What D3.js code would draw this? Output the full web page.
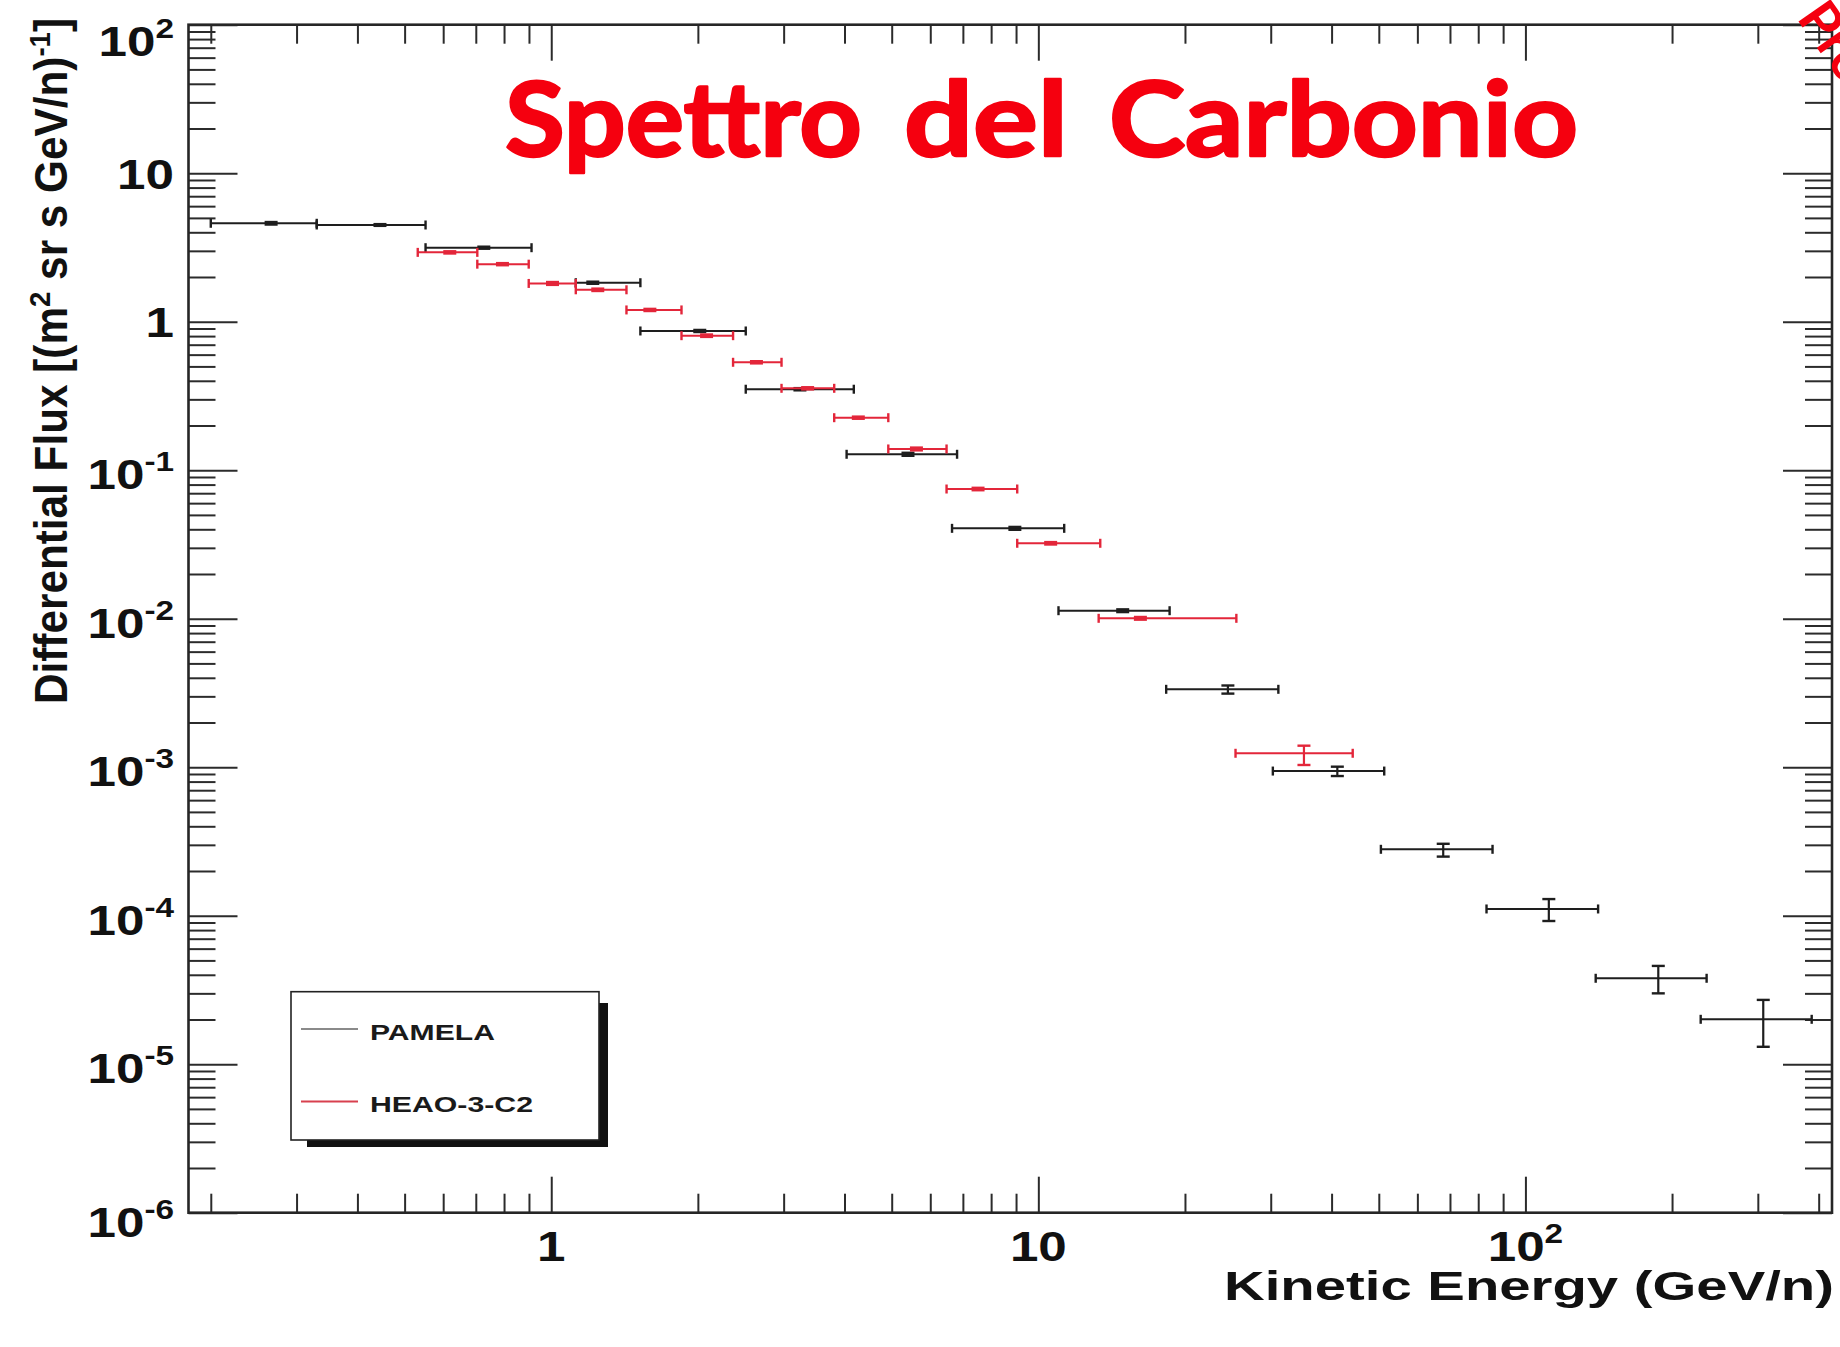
<!DOCTYPE html>
<html>
<head>
<meta charset="utf-8">
<script src="https://cdn.jsdelivr.net/npm/d3@7"></script>
<style>
  html, body { margin: 0; padding: 0; background: #ffffff; }
  svg { display: block; }
</style>
</head>
<body>
<svg id="chart" width="1840" height="1347"></svg>
<script>
// ---- PAMELA carbon flux (kinetic energy per nucleon, GeV/n) ----
const pamelaEnergy   = [0.266, 0.445, 0.727, 1.217, 2.018, 3.24, 5.40, 8.95, 14.9, 24.5, 41.1, 67.8, 111.7, 187.4, 307.8];
const pamelaEnergyLo = [0.20, 0.33, 0.552, 1.123, 1.524, 2.508, 4.04, 6.65, 11.0, 18.3, 30.3, 50.5, 83.2, 139.4, 229];
const pamelaEnergyHi = [0.33, 0.552, 0.911, 1.524, 2.508, 4.18, 6.81, 11.3, 18.6, 31.1, 51.3, 85.6, 141, 235.5, 387];
const pamelaFlux     = [4.60, 4.48, 3.15, 1.83, 0.866, 0.351, 0.128, 0.0406, 0.01132, 0.003346, 0.000942, 0.00028, 0.000111, 3.79e-5, 2.006e-5];
const pamelaFluxLo   = [4.51, 4.42, 3.10, 1.80, 0.852, 0.345, 0.125, 0.0397, 0.01108, 0.00313, 0.000872, 0.00025, 0.0000921, 3.0e-5, 1.31e-5];
const pamelaFluxHi   = [4.69, 4.54, 3.20, 1.86, 0.880, 0.357, 0.131, 0.0415, 0.01156, 0.00355, 0.001008, 0.000305, 0.0001294, 4.59e-5, 2.71e-5];

// ---- HEAO-3-C2 carbon flux ----
const heaoEnergy   = [0.619, 0.794, 1.006, 1.246, 1.594, 2.084, 2.638, 3.36, 4.27, 5.62, 7.52, 10.6, 16.2, 35.1];
const heaoEnergyLo = [0.532, 0.705, 0.899, 1.123, 1.427, 1.851, 2.362, 2.97, 3.81, 4.92, 6.48, 9.05, 13.3, 25.4];
const heaoEnergyHi = [0.705, 0.899, 1.123, 1.427, 1.851, 2.362, 2.97, 3.81, 4.92, 6.48, 9.05, 13.4, 25.5, 44.2];
const heaoFlux     = [2.93, 2.44, 1.81, 1.64, 1.20, 0.805, 0.533, 0.356, 0.2257, 0.139, 0.0747, 0.0322, 0.01006, 0.001241];
const heaoFluxLo   = [2.88, 2.40, 1.77, 1.61, 1.18, 0.790, 0.524, 0.350, 0.2220, 0.136, 0.0733, 0.0316, 0.00985, 0.001035];
const heaoFluxHi   = [2.98, 2.48, 1.85, 1.67, 1.22, 0.820, 0.542, 0.362, 0.2295, 0.142, 0.0761, 0.0328, 0.01027, 0.001396];

// ---- axes ----
const xDomain = [0.18, 426];
const yDomain = [1e-6, 100];
const xTickExponents = [0, 1, 2];
const yTickExponents = [-6, -5, -4, -3, -2, -1, 0, 1, 2];

const seriesNames = ["PAMELA", "HEAO-3-C2"];
const titleWords = ["Spettro", "del", "Carbonio"];
const xTitle = "Kinetic Energy (GeV/n)";
const stampText = "Preliminary";

// ------------------------------------------------------------------
const svg = d3.select("#chart");
const FONT = "'Liberation Sans', Arial, Helvetica, sans-serif";
const plot = { left: 188.5, right: 1832, top: 24.7, bottom: 1212.7 };

const x = d3.scaleLog().domain(xDomain).range([plot.left, plot.right]);
const y = d3.scaleLog().domain(yDomain).range([plot.bottom, plot.top]);

svg.append("rect").attr("width", 1840).attr("height", 1347).attr("fill", "#ffffff");

// log tick values m*10^k inside a domain
function logTicks(lo, hi, majorOnly) {
  const out = [];
  for (let k = Math.floor(Math.log10(lo)); k <= Math.ceil(Math.log10(hi)); k++) {
    for (let m = 1; m <= 9; m++) {
      if (majorOnly && m !== 1) continue;
      if (!majorOnly && m === 1) continue;
      const v = +(m * Math.pow(10, k)).toPrecision(6);
      if (v >= lo * 0.999 && v <= hi * 1.001) out.push(v);
    }
  }
  return out;
}
const xMinor = logTicks(xDomain[0], xDomain[1], false);
const xMajor = logTicks(xDomain[0], xDomain[1], true);
const yMinor = logTicks(yDomain[0], yDomain[1], false);
const yMajor = logTicks(yDomain[0], yDomain[1], true);

function styleAxis(g) {
  g.select(".domain").remove();
  g.selectAll(".tick line").attr("stroke", "#2b2b2b").attr("stroke-width", 2);
  g.selectAll(".tick text").remove();
}

const axes = svg.append("g");
// bottom & top axes (ticks point inward)
[[d3.axisBottom, plot.bottom], [d3.axisTop, plot.top]].forEach(([fn, pos]) => {
  axes.append("g").attr("transform", `translate(0,${pos})`)
    .call(fn(x).tickValues(xMinor).tickSize(-19).tickSizeOuter(0).tickFormat(""))
    .call(styleAxis);
  axes.append("g").attr("transform", `translate(0,${pos})`)
    .call(fn(x).tickValues(xMajor).tickSize(-36).tickSizeOuter(0).tickFormat(""))
    .call(styleAxis);
});
// left & right axes
[[d3.axisLeft, plot.left], [d3.axisRight, plot.right]].forEach(([fn, pos]) => {
  axes.append("g").attr("transform", `translate(${pos},0)`)
    .call(fn(y).tickValues(yMinor).tickSize(-27).tickSizeOuter(0).tickFormat(""))
    .call(styleAxis);
  axes.append("g").attr("transform", `translate(${pos},0)`)
    .call(fn(y).tickValues(yMajor).tickSize(-49).tickSizeOuter(0).tickFormat(""))
    .call(styleAxis);
});

// frame
svg.append("rect")
  .attr("x", plot.left).attr("y", plot.top)
  .attr("width", plot.right - plot.left).attr("height", plot.bottom - plot.top)
  .attr("fill", "none").attr("stroke", "#262626").attr("stroke-width", 2.6);

// power-of-ten label: "1", "10", or "10" with superscript exponent
function powerLabel(sel, e) {
  const t = sel.append("text")
    .attr("font-family", FONT).attr("font-weight", "bold")
    .attr("font-size", 43).attr("fill", "#111");
  if (e === 0) t.text("1");
  else if (e === 1) t.text("10");
  else {
    t.append("tspan").text("10");
    t.append("tspan").attr("dy", -18).attr("font-size", 28).text(String(e));
  }
  return t;
}

// y tick labels (the end labels sit slightly lower, as in the original layout)
yTickExponents.forEach(e => {
  const hasSup = e < 0 || e > 1;
  let dy = hasSup ? 19 : 15.5;
  if (e === 2) dy += 12;
  if (e === -6) dy += 5;
  const g = svg.append("g")
    .attr("transform", `translate(174,${y(Math.pow(10, e)) + dy}) scale(1.19,1)`);
  powerLabel(g, e).attr("text-anchor", "end");
});

// x tick labels
xTickExponents.forEach(e => {
  const g = svg.append("g")
    .attr("transform", `translate(${x(Math.pow(10, e))},1261) scale(1.19,1)`);
  powerLabel(g, e).attr("text-anchor", "middle");
});

// x axis title
svg.append("text")
  .attr("x", 1224).attr("y", 1300)
  .attr("font-family", FONT).attr("font-weight", "bold").attr("font-size", 41)
  .attr("fill", "#111")
  .attr("textLength", 610).attr("lengthAdjust", "spacingAndGlyphs")
  .text(xTitle);

// y axis title
const yt = svg.append("text")
  .attr("transform", "translate(67,704) rotate(-90)")
  .attr("font-family", FONT).attr("font-weight", "bold").attr("font-size", 46)
  .attr("fill", "#111")
  .attr("textLength", 686).attr("lengthAdjust", "spacingAndGlyphs");
yt.append("tspan").text("Differential Flux [(m");
yt.append("tspan").attr("dy", -17).attr("font-size", 30).text("2");
yt.append("tspan").attr("dy", 17).text(" sr s GeV/n)");
yt.append("tspan").attr("dy", -17).attr("font-size", 30).text("-1");
yt.append("tspan").attr("dy", 17).text("]");

// ---- data with error bars ----
function drawSeries(name, E, ELo, EHi, F, FLo, FHi, color) {
  const pts = E.map((e, i) => ({ e, lo: ELo[i], hi: EHi[i], f: F[i], flo: FLo[i], fhi: FHi[i] }));
  const g = svg.append("g").attr("class", name)
    .attr("stroke", color).attr("stroke-width", 2).attr("fill", "none");
  // horizontal bin width
  g.selectAll("line.h").data(pts).join("line").attr("class", "h")
    .attr("x1", d => x(d.lo)).attr("x2", d => x(d.hi))
    .attr("y1", d => y(d.f)).attr("y2", d => y(d.f));
  // end caps of the bin width
  ["lo", "hi"].forEach(k => {
    g.selectAll(`line.c${k}`).data(pts).join("line").attr("class", `c${k}`)
      .attr("stroke-width", 2.4)
      .attr("x1", d => x(d[k])).attr("x2", d => x(d[k]))
      .attr("y1", d => y(d.f) - 4.5).attr("y2", d => y(d.f) + 4.5);
  });
  // vertical flux error
  g.selectAll("line.v").data(pts).join("line").attr("class", "v")
    .attr("stroke-width", 2.2)
    .attr("x1", d => x(d.e)).attr("x2", d => x(d.e))
    .attr("y1", d => y(d.fhi)).attr("y2", d => y(d.flo));
  ["flo", "fhi"].forEach(k => {
    g.selectAll(`line.${k}`).data(pts).join("line").attr("class", k)
      .attr("stroke-width", 2.4)
      .attr("x1", d => x(d.e) - 6.5).attr("x2", d => x(d.e) + 6.5)
      .attr("y1", d => y(d[k])).attr("y2", d => y(d[k]));
  });
}

drawSeries("pamela", pamelaEnergy, pamelaEnergyLo, pamelaEnergyHi, pamelaFlux, pamelaFluxLo, pamelaFluxHi, "#1e1e1e");
drawSeries("heao", heaoEnergy, heaoEnergyLo, heaoEnergyHi, heaoFlux, heaoFluxLo, heaoFluxHi, "#e3263a");

// ---- legend ----
const leg = svg.append("g");
leg.append("rect").attr("x", 307).attr("y", 1003).attr("width", 301).attr("height", 144).attr("fill", "#111");
leg.append("rect").attr("x", 291).attr("y", 991.7).attr("width", 308).attr("height", 148.3)
  .attr("fill", "#ffffff").attr("stroke", "#222").attr("stroke-width", 1.6);
const legendRows = [
  { name: seriesNames[0], color: "#8a8a8a", y: 1029, len: 125 },
  { name: seriesNames[1], color: "#d8404e", y: 1101.5, len: 163 }
];
legendRows.forEach(r => {
  leg.append("line").attr("x1", 301).attr("x2", 358).attr("y1", r.y).attr("y2", r.y)
    .attr("stroke", r.color).attr("stroke-width", 2.2);
  leg.append("text").attr("x", 370).attr("y", r.y + 10.5)
    .attr("font-family", FONT).attr("font-weight", "bold").attr("font-size", 22)
    .attr("fill", "#1a1a1a")
    .attr("textLength", r.len).attr("lengthAdjust", "spacingAndGlyphs")
    .text(r.name);
});

// ---- title ----
const titleX = [505, 904, 1109];
const titleLen = [357, 164, 469];
titleWords.forEach((w, i) => {
  svg.append("text")
    .attr("x", titleX[i]).attr("y", 156)
    .attr("font-family", "Lato, 'Open Sans', sans-serif").attr("font-weight", 700)
    .attr("font-size", 104)
    .attr("fill", "#f5000f").attr("stroke", "#f5000f").attr("stroke-width", 2.5)
    .attr("stroke-linejoin", "round")
    .attr("textLength", titleLen[i]).attr("lengthAdjust", "spacingAndGlyphs")
    .text(w);
});

// stamp in the top-right corner, running off the page edge
svg.append("text")
  .attr("transform", "translate(1796,18) rotate(55)")
  .attr("font-family", "Lato, 'Open Sans', sans-serif").attr("font-weight", 700)
  .attr("font-size", 54)
  .attr("fill", "#f5000f")
  .text(stampText);
</script>
</body>
</html>
